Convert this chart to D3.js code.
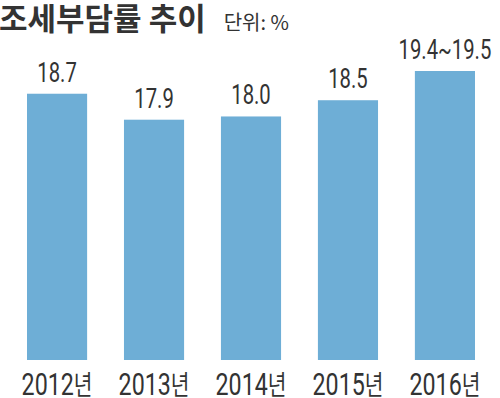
<!DOCTYPE html>
<html>
<head>
<meta charset="utf-8">
<script src="https://cdn.jsdelivr.net/npm/d3@7"></script>
<style>
  body { margin: 0; background: #fff; }
  .num { font-family: Roboto, "DejaVu Sans", sans-serif; fill: #333; }
  .kr { font-family: "Noto Sans CJK KR", sans-serif; fill: #333; }
</style>
</head>
<body>
<div id="chart"></div>
<script>
// 조세부담률 추이 (단위: %)
const years = ['2012', '2013', '2014', '2015', '2016'];
const values = [18.7, 17.9, 18.0, 18.5, 19.4];
const labels = ['18.7', '17.9', '18.0', '18.5', '19.4~19.5'];

const width = 500, height = 398;
const baseline = 360;
const narrow = 0.75; // condensed look of the numbers

const svg = d3.select('#chart').append('svg')
  .attr('width', width)
  .attr('height', height);

// title
const title = svg.append('text')
  .attr('class', 'kr')
  .attr('x', -1)
  .attr('y', 30)
  .style('font-size', '31px')
  .style('font-weight', 'bold');
title.append('tspan').text('조세부담률 추이');
title.append('tspan')
  .attr('dx', 18)
  .style('font-size', '20px')
  .style('font-weight', 'normal')
  .text('단위: %');

let x = d3.scaleBand()
  .domain(years)
  .range([27, 475])
  .paddingInner(0.38)
  .paddingOuter(0);

// axis is cut off below, bars start around 10.5
let y = d3.scaleLinear()
  .domain([10.5, 19.4])
  .range([baseline, 71]);

svg.selectAll('rect.bar')
  .data(values)
  .enter()
  .append('rect')
  .attr('class', 'bar')
  .attr('x', (d, i) => x(years[i]))
  .attr('width', x.bandwidth())
  .attr('y', d => y(d))
  .attr('height', d => baseline - y(d))
  .attr('fill', '#6eaed6');

svg.selectAll('text.val')
  .data(values)
  .enter()
  .append('text')
  .attr('class', 'val num')
  .attr('transform', (d, i) => `translate(${ x(years[i]) + x.bandwidth() / 2 },${ y(d) - 12 }) scale(${ narrow },1)`)
  .attr('text-anchor', 'middle')
  .style('font-size', '27px')
  .text((d, i) => labels[i]);

let xAxis = svg.append('g')
  .attr('transform', `translate(0,${ baseline })`)
  .call(d3.axisBottom(x).tickSize(0).tickPadding(0).tickFormat(d => d));
xAxis.select('.domain').remove();
xAxis.selectAll('.tick text').remove();
xAxis.selectAll('.tick').append('text')
  .attr('transform', `translate(0,35) scale(${ narrow },1)`)
  .attr('text-anchor', 'middle')
  .each(function(d) {
    let t = d3.select(this);
    t.append('tspan').attr('class', 'num').style('font-size', '31px').text(d);
    t.append('tspan').attr('class', 'kr').style('font-size', '27px').text('년');
  });
</script>
</body>
</html>
